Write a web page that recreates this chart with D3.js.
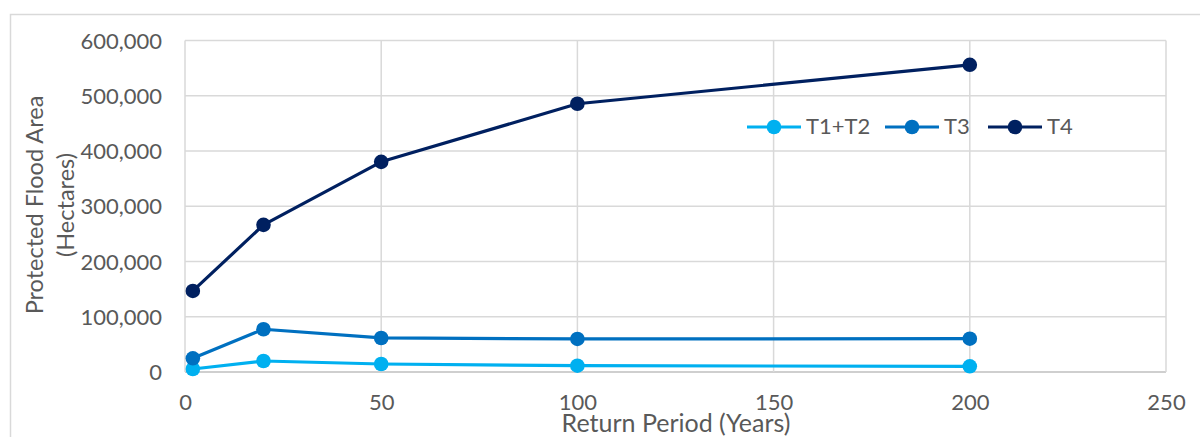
<!DOCTYPE html>
<html>
<head>
<meta charset="utf-8">
<script src="https://cdn.jsdelivr.net/npm/d3@7"></script>
<style>
  html, body { margin: 0; padding: 0; background: #fff; }
  svg { display: block; }
  text { font-family: Lato, "Open Sans", sans-serif; fill: #595959; }
</style>
</head>
<body>
<svg id="chart" width="1200" height="437"></svg>
<script>
// Return periods (years) and protected flood area (hectares) per scenario
const returnPeriods = [2, 20, 50, 100, 200];
const seriesNames = ["T1+T2", "T3", "T4"];
const t1t2Values = [5400, 19900, 14500, 11400, 10300];
const t3Values = [24800, 77400, 61600, 59800, 60300];
const t4Values = [146700, 266300, 380400, 485500, 556000];
const seriesColors = ["#00B0F0", "#0070C0", "#002060"];
const xTicks = [0, 50, 100, 150, 200, 250];
const yTicks = [0, 100000, 200000, 300000, 400000, 500000, 600000];

const series = [t1t2Values, t3Values, t4Values].map((vals, i) => ({
  name: seriesNames[i],
  color: seriesColors[i],
  points: returnPeriods.map((p, j) => ({ x: p, y: vals[j] }))
}));

const svg = d3.select("#chart");
const plot = { left: 185, right: 1166, top: 40.5, bottom: 372 };

const x = d3.scaleLinear().domain([0, 250]).range([plot.left, plot.right]);
const y = d3.scaleLinear().domain([0, 600000]).range([plot.bottom, plot.top]);

// Chart frame
svg.append("rect")
  .attr("x", 10.5).attr("y", 14.5)
  .attr("width", 1200).attr("height", 440)
  .attr("fill", "none").attr("stroke", "#d9d9d9").attr("stroke-width", 1.5);

// Gridlines
const grid = svg.append("g");
grid.selectAll("line.h").data(yTicks).join("line")
  .attr("class", "h")
  .attr("x1", plot.left).attr("x2", plot.right)
  .attr("y1", d => y(d)).attr("y2", d => y(d))
  .attr("stroke", d => d === 0 ? "#bfbfbf" : "#d9d9d9").attr("stroke-width", 1.5);
grid.selectAll("line.v").data(xTicks).join("line")
  .attr("class", "v")
  .attr("y1", plot.top).attr("y2", plot.bottom)
  .attr("x1", d => x(d)).attr("x2", d => x(d))
  .attr("stroke", "#d9d9d9").attr("stroke-width", 1.5);

// Axes (labels only; lines come from the grid)
const yAxis = d3.axisLeft(y).tickValues(yTicks).tickSize(0).tickPadding(0)
  .tickFormat(d3.format(","));
const gy = svg.append("g").attr("transform", `translate(162,0)`).call(yAxis);
gy.select(".domain").remove();
gy.selectAll("text").style("font-size", "22px").attr("dy", "0.35em").style("fill", "#595959");

const xAxis = d3.axisBottom(x).tickValues(xTicks).tickSize(0).tickPadding(0)
  .tickFormat(d3.format("d"));
const gx = svg.append("g").attr("transform", `translate(0,410)`).call(xAxis);
gx.select(".domain").remove();
gx.selectAll("text").style("font-size", "22px").attr("dy", 0).attr("y", 0).style("fill", "#595959");

// Axis titles
svg.append("text")
  .attr("x", 676).attr("y", 432)
  .attr("text-anchor", "middle")
  .style("font-size", "25px")
  .text("Return Period (Years)");

const yTitle = svg.append("text")
  .attr("transform", "translate(43,205) rotate(-90)")
  .attr("text-anchor", "middle")
  .style("font-size", "23.5px");
yTitle.append("tspan").attr("x", 0).attr("y", 0).text("Protected Flood Area");
yTitle.append("tspan").attr("x", 0).attr("y", 31).text("(Hectares)");

// Lines and markers
const line = d3.line().x(d => x(d.x)).y(d => y(d.y));
const gSeries = svg.append("g").selectAll("g").data(series).join("g");
gSeries.append("path")
  .attr("d", d => line(d.points))
  .attr("fill", "none")
  .attr("stroke", d => d.color)
  .attr("stroke-width", 3.2)
  .attr("stroke-linejoin", "round");
gSeries.selectAll("circle").data(d => d.points.map(p => ({ ...p, color: d.color }))).join("circle")
  .attr("cx", d => x(d.x)).attr("cy", d => y(d.y))
  .attr("r", 7.3)
  .attr("fill", d => d.color);

// Legend
const legendX = [747, 885, 988];
const legend = svg.append("g").selectAll("g").data(series).join("g")
  .attr("transform", (d, i) => `translate(${legendX[i]},127)`);
legend.append("line")
  .attr("x1", 0).attr("x2", 54)
  .attr("stroke", d => d.color).attr("stroke-width", 3.2);
legend.append("circle")
  .attr("cx", 27).attr("r", 7.3).attr("fill", d => d.color);
legend.append("text")
  .attr("x", 59).attr("y", 0).attr("dy", "0.33em")
  .style("font-size", "22px")
  .text(d => d.name);
</script>
</body>
</html>
